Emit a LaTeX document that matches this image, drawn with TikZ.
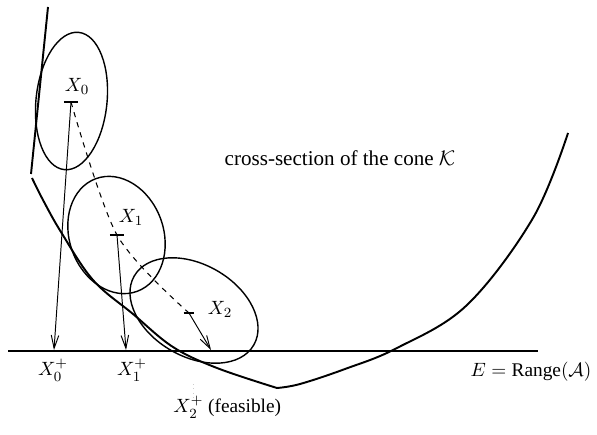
\documentclass[tikz,border=0pt]{standalone}
\usepackage{amsmath}
\usepackage{fontspec}
\setmainfont{Liberation Serif}
\usepackage{tikz}
\usetikzlibrary{arrows.meta}

\tikzset{
  cone/.style={line width=1.1pt, line join=round},
  ball/.style={line width=0.8pt},
  proj/.style={line width=0.55pt, -{Straight Barb[length=2.6mm, width=1.5mm]}},
  iterpath/.style={line width=0.6pt, dash pattern=on 3pt off 3pt},
  tickbar/.style={line width=0.6pt},
  lbl/.style={inner sep=0pt, font=\fontsize{11}{13}\selectfont},
}

\begin{document}
\begin{tikzpicture}[x=0.02cm, y=-0.02cm]
	\useasboundingbox (0,0) rectangle (597,435);
	% boundary of the cone
	\draw[cone] (48,7) -- (31,174);
	\draw[cone] plot[smooth, tension=0.6] coordinates {(32,178) (43,200) (61,232) (93,280) (133,314) (173,347) (217,368) (277,388)};
	\draw[cone] plot[smooth, tension=0.6] coordinates {(277,388) (300,384) (345,369) (397,348) (467,305) (533,218) (568,133)};
	% the subspace E
	\draw[line width=0.7pt] (8,351) -- (538,351);
	% ellipsoids
	\draw[ball, rotate around={-6:(71.5,101)}] (71.5,101) ellipse (35.5 and 69);
	\draw[ball, rotate around={20:(116.5,235)}] (116.5,235) ellipse (47 and 60);
	\draw[ball, rotate around={-30:(194,310.5)}] (194,310.5) ellipse (69 and 46);
	% iterates and their projections
	\coordinate (x0) at (71,102);
	\coordinate (x1) at (117,235);
	\coordinate (x2) at (189,313);
	\coordinate (x0p) at (54,350);
	\coordinate (x1p) at (126,350);
	\coordinate (x2p) at (211,350);
	\draw[iterpath] plot[smooth, tension=0.5] coordinates {(x0) (x1) (x2)};
	\draw[tickbar] ([xshift=-4]x0) -- ([xshift=4]x0);
	\draw[tickbar] ([xshift=-4]x1) -- ([xshift=4]x1);
	\draw[tickbar] ([xshift=-3]x2) -- ([xshift=3]x2);
	\draw[proj] (x0) -- (x0p);
	\draw[proj] (x1) -- (x1p);
	\draw[proj] (x2) -- (x2p);
	\draw[gray!40, dotted, line width=0.5pt] (193,384) -- (193,398);
	% labels
	\node[lbl] (lx0) at (77,86) {$X_0$};
	\node[lbl] (lx1) at (131,217) {$X_1$};
	\node[lbl] (lx2) at (220,309) {$X_2$};
	\node[lbl] (lx0p) at (53,370) {$X_0^+$};
	\node[lbl] (lx1p) at (132,370) {$X_1^+$};
	\node[lbl, anchor=west] (lx2p) at (173,407) {$X_2^+$\ (feasible)};
	\node[lbl, font=\fontsize{12}{14}\selectfont] (lcone) at (340,158) {cross-section of the cone $\mathcal{K}$};
	\node[lbl] (lrange) at (531,372) {$E=\text{Range}(\mathcal{A})$};
\end{tikzpicture}
\end{document}
